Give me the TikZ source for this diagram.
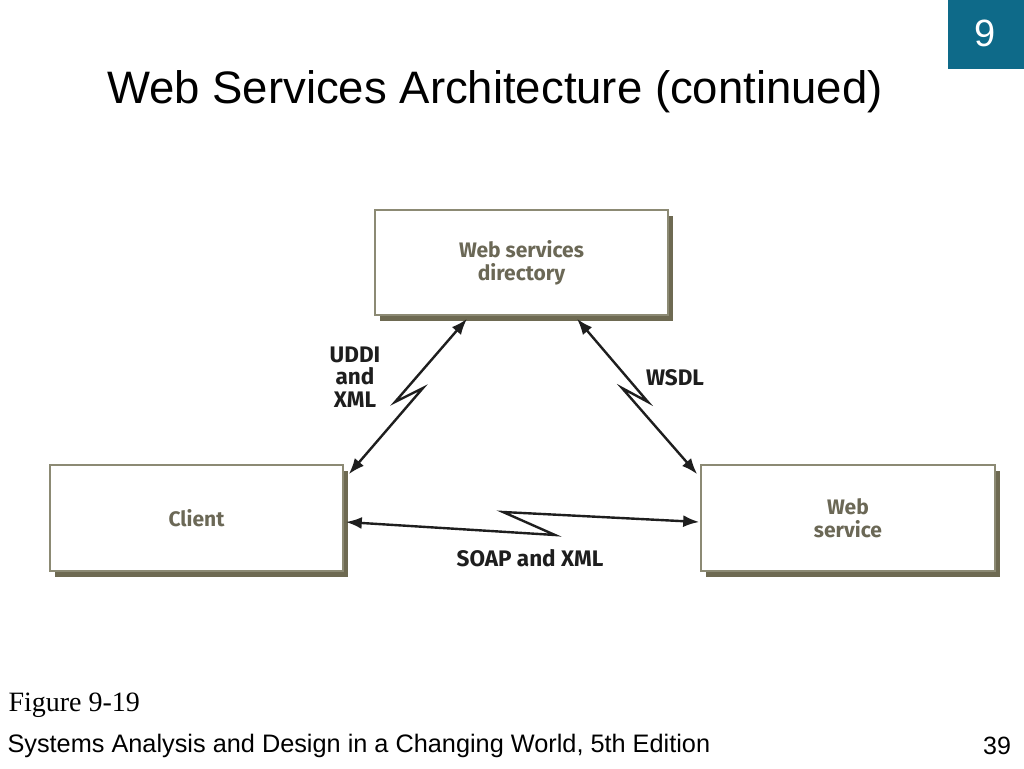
\documentclass[tikz,border=0pt]{standalone}
\usepackage{fontspec}
\setmainfont{Liberation Sans}
\newfontfamily\timesf{Liberation Serif}
\newfontfamily\dinf{Fira Sans}
\usetikzlibrary{arrows.meta,shadows,calc}
\definecolor{boxline}{HTML}{8C8A74}
\definecolor{shadowc}{HTML}{6E6A52}
\definecolor{boxtext}{HTML}{6B6856}
\definecolor{teal}{HTML}{0E6A89}
\definecolor{lab}{HTML}{1E1E1E}
\begin{document}
\begin{tikzpicture}[x=1pt,y=-1pt,
  boxnode/.style={draw=boxline, line width=1.6pt, fill=white,
    minimum width=293pt, minimum height=105pt, align=center,
    font=\dinf\bfseries\fontsize{21}{23}\selectfont, text=boxtext,
    general shadow={fill=shadowc, shadow xshift=4.5pt, shadow yshift=-5.5pt}},
  conn/.style={line width=2.4pt, color=lab,
    {Latex[length=16pt,width=12pt]}-{Latex[length=16pt,width=12pt]}},
  lbl/.style={font=\dinf\bfseries\fontsize{22.5}{22.5}\selectfont, text=lab, align=center}]
\useasboundingbox (0,0) rectangle (1024,768);
\fill[white] (0,0) rectangle (1024,768);
% badge
\node[fill=teal, minimum width=76pt, minimum height=69pt, inner sep=0pt, anchor=north east] (badge) at (1024,0) {};
\node[text=white, font=\fontsize{38}{40}\selectfont] (badgenum) at (985,33) {9};
% title
\node[font=\fontsize{45.5}{50}\selectfont, anchor=center] (title) at (495,92) {Web Services Architecture (continued)};
% boxes
\node[boxnode] (dir) at (521.5,262.5) {Web services\\directory};
\node[boxnode, minimum height=106pt] (client) at (196.5,518) {Client};
\node[boxnode, minimum width=294pt, minimum height=106pt] (ws) at (848,518) {Web\\service};
% connector ends
\coordinate (l1) at ($(client.north east)+(5,10)$);
\coordinate (l2) at ($(dir.south)+(-54.5,3)$);
\coordinate (r1) at ($(dir.south)+(55.5,3)$);
\coordinate (r2) at ($(ws.north west)+(-3,10)$);
\coordinate (b1) at ($(client.east)+(2,4)$);
\coordinate (b2) at ($(ws.west)+(-1,4)$);
% connectors with zigzag
\draw[conn] (l1) -- (423,388) -- (395,402) -- (l2);
\draw[conn] (r1) -- (648,402) -- (622,388) -- (r2);
\draw[conn] (b1) -- (555,535) -- (503,512) -- (b2);
% labels
\node[lbl] (uddi) at (355,377) {UDDI\\and\\XML};
\node[lbl] (wsdl) at (675,378) {WSDL};
\node[lbl] (soap) at (530,558) {SOAP and XML};
% footer
\node[font=\timesf\fontsize{28}{30}\selectfont, anchor=west] (fig) at (5,705) {Figure 9-19};
\node[font=\fontsize{25.3}{28}\selectfont, anchor=west] (book) at (4,746) {Systems Analysis and Design in a Changing World, 5th Edition};
\node[font=\fontsize{25}{28}\selectfont] (page) at (997,746) {39};
\end{tikzpicture}
\end{document}
